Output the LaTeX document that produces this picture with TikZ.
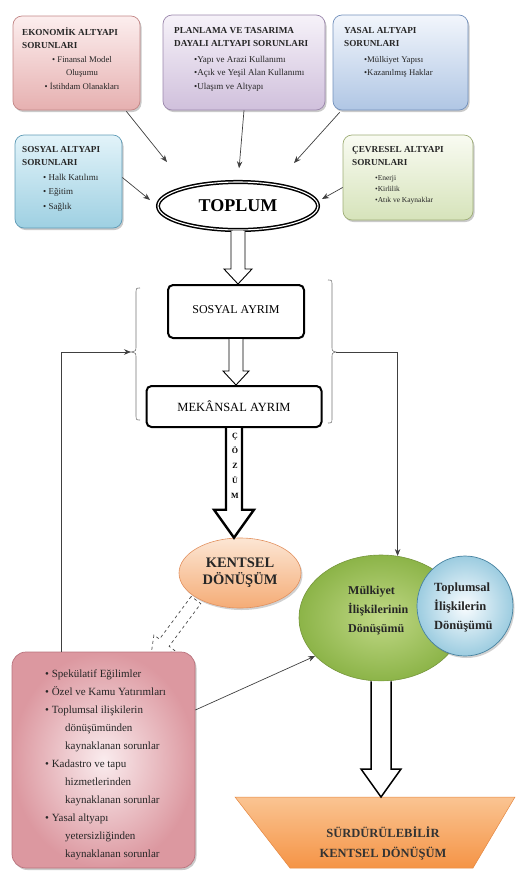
\documentclass[tikz,border=0pt]{standalone}
\usepackage{fontspec}
\setmainfont{Liberation Serif}
\usetikzlibrary{shapes.geometric,arrows.meta,shadows,calc}
\definecolor{ekoT}{RGB}{252,238,238}\definecolor{ekoB}{RGB}{230,176,176}\definecolor{ekoD}{RGB}{195,135,135}
\definecolor{plaT}{RGB}{246,242,249}\definecolor{plaB}{RGB}{208,192,220}\definecolor{plaD}{RGB}{155,135,172}
\definecolor{yasT}{RGB}{242,246,252}\definecolor{yasB}{RGB}{176,198,228}\definecolor{yasD}{RGB}{115,145,188}
\definecolor{sosT}{RGB}{226,243,249}\definecolor{sosB}{RGB}{158,208,226}\definecolor{sosD}{RGB}{95,155,182}
\definecolor{cevT}{RGB}{249,251,242}\definecolor{cevB}{RGB}{214,227,186}\definecolor{cevD}{RGB}{158,173,118}
\definecolor{kenT}{RGB}{252,230,212}\definecolor{kenB}{RGB}{245,172,118}\definecolor{kenD}{RGB}{226,145,95}
\definecolor{grnI}{RGB}{192,216,134}\definecolor{grnO}{RGB}{140,180,72}\definecolor{grnD}{RGB}{118,150,60}
\definecolor{bluI}{RGB}{250,253,255}\definecolor{bluO}{RGB}{156,204,224}\definecolor{bluD}{RGB}{70,130,160}
\definecolor{pnkI}{RGB}{250,236,238}\definecolor{pnkO}{RGB}{220,152,160}\definecolor{pnkD}{RGB}{185,115,125}
\definecolor{trT}{RGB}{250,196,146}\definecolor{trB}{RGB}{245,148,70}\definecolor{trD}{RGB}{228,135,65}
\newcommand\harrow[6][]{%
 \draw[#1] let \p1=(#2), \p2=(#3) in
   (\x1-#4,\y1) -- (\x1-#4,\y2+#6) -- (\x1-#5,\y2+#6) -- (\x1,\y2) --
   (\x1+#5,\y2+#6) -- (\x1+#4,\y2+#6) -- (\x1+#4,\y1);}
\begin{document}
\begin{tikzpicture}[x=1pt,y=-1pt,
  box/.style={rounded corners=9pt, line width=0.7pt, inner sep=0,
     drop shadow={shadow xshift=1.5pt, shadow yshift=-2pt, opacity=0.35, fill=black!60}},
  ttl/.style={font=\fontsize{9.2}{13.5}\selectfont\bfseries, align=left, anchor=north west, inner sep=0, text=black!85},
  lst/.style={font=\fontsize{8.7}{13.5}\selectfont, align=left, anchor=north west, inner sep=0, text=black!85},
  con/.style={draw=black!75, line width=0.7pt, -{Stealth[length=7pt,width=5.5pt]}},
  hol/.style={draw=black, line width=0.9pt, fill=white, line join=miter},
  ayr/.style={draw=black, line width=2pt, rounded corners=5pt, fill=white, inner sep=0},
  brc/.style={draw=black!55, line width=0.6pt}
]
\useasboundingbox (0,0) rectangle (515,879);

% ---- top boxes
\node[box, draw=ekoD, top color=ekoT, bottom color=ekoB, minimum width=127, minimum height=94] (eko) at (76.5,63) {};
\node[ttl] (ekoTt) at (22,27) {EKONOMİK ALTYAPI\\SORUNLARI};
\node[lst, align=center, anchor=north] (ekoL) at (82,56) {• Finansal Model\\Oluşumu\\• İstihdam Olanakları};

\node[box, draw=plaD, top color=plaT, bottom color=plaB, minimum width=162, minimum height=95] (pla) at (244,62.5) {};
\node[ttl] (plaTt) at (174,27) {PLANLAMA VE TASARIMA\\DAYALI ALTYAPI SORUNLARI};
\node[lst, font=\fontsize{9}{13.5}\selectfont] (plaL) at (194,56) {•Yapı ve Arazi Kullanımı\\•Açık ve Yeşil Alan Kullanımı\\•Ulaşım ve Altyapı};

\node[box, draw=yasD, top color=yasT, bottom color=yasB, minimum width=135, minimum height=95] (yas) at (400.5,62.5) {};
\node[ttl] (yasTt) at (344,27) {YASAL ALTYAPI\\SORUNLARI};
\node[lst] (yasL) at (364,56) {•Mülkiyet Yapısı\\•Kazanılmış Haklar};

\node[box, draw=sosD, top color=sosT, bottom color=sosB, minimum width=107, minimum height=93] (sos) at (68.5,181.5) {};
\node[ttl] (sosTt) at (22,146) {SOSYAL ALTYAPI\\SORUNLARI};
\node[lst, font=\fontsize{9}{14.5}\selectfont] (sosL) at (43,174) {• Halk Katılımı\\• Eğitim\\• Sağlık};

\node[box, draw=cevD, top color=cevT, bottom color=cevB, minimum width=130, minimum height=85] (cev) at (408,177.5) {};
\node[ttl] (cevTt) at (352,146) {ÇEVRESEL ALTYAPI\\SORUNLARI};
\node[lst, font=\fontsize{7.5}{11}\selectfont] (cevL) at (375,175) {•Enerji\\•Kirlilik\\•Atık ve Kaynaklar};

% ---- TOPLUM
\node[ellipse, draw=black, line width=1.5pt, double=white, double distance=1.1pt, fill=white,
      minimum width=160, minimum height=48, inner sep=0, font=\fontsize{18}{20}\selectfont\bfseries] (top) at (238,206) {TOPLUM};

\coordinate (ea) at (167,162);
\coordinate (ya) at (294,163);
\coordinate (sa1) at (150,200);
\coordinate (ca) at (322,199);
\draw[con] ($(eko.south east)+(-14,1)$) -- (ea);
\draw[con, shorten >=13pt] (pla.south) -- (top.north);
\draw[con] ($(yas.south west)+(7,2)$) -- (ya);
\draw[con] ($(sos.east)+(0,-4)$) -- (sa1);
\draw[con] ($(cev.west)+(0,10)$) -- (ca);

% ---- ayrim boxes
\node[ayr, minimum width=136, minimum height=53, font=\fontsize{12}{14}\selectfont] (sa) at (236,311.5) {\raisebox{4pt}{SOSYAL AYRIM}};
\node[ayr, minimum width=175, minimum height=41, font=\fontsize{12.5}{14}\selectfont] (ma) at (234,406.5) {MEKÂNSAL AYRIM};

\harrow[hol]{top.south}{sa.north}{7pt}{14pt}{15pt}
\harrow[hol]{sa.south}{ma.north}{7pt}{13pt}{14pt}

% braces
\coordinate (lb) at (131,352);
\coordinate (rb) at (336,352);
\draw[brc] (140,288) .. controls (136,288) .. (136,294) -- (136,346) .. controls (136,351) .. (lb)
           .. controls (136,353) .. (136,358) -- (136,414) .. controls (136,420) .. (140,420);
\draw[brc] (328,280) .. controls (332,280) .. (332,286) -- (332,346) .. controls (332,351) .. (rb)
           .. controls (332,353) .. (332,358) -- (332,417) .. controls (332,423) .. (328,423);

% ---- KENTSEL
\node[ellipse, draw=kenD, line width=0.6pt, top color=kenT, bottom color=kenB, minimum width=122, minimum height=70,
      inner sep=0, align=center, font=\fontsize{14.5}{17}\selectfont\bfseries, text=black!85,
      drop shadow={shadow xshift=1.5pt, shadow yshift=-2pt, opacity=0.3, fill=black!60}] (kd) at (240,573) {KENTSEL\\DÖNÜŞÜM};

\harrow[draw=black, line width=2.4pt, fill=white, line join=miter]{ma.south}{kd.north}{8pt}{20pt}{28pt}
\node[inner sep=0, align=center, font=\fontsize{8}{15}\selectfont\bfseries] (coz) at (235,466) {Ç\\Ö\\Z\\Ü\\M};

% ---- green & blue
\node[ellipse, draw=grnD, line width=0.6pt, inner color=grnI, outer color=grnO, minimum width=164, minimum height=126, inner sep=0] (grn) at (381,618) {};
\node[ellipse, draw=bluD, line width=0.7pt, inner color=bluI, outer color=bluO, minimum width=96, minimum height=100, inner sep=0,
      drop shadow={shadow xshift=1.5pt, shadow yshift=-2pt, opacity=0.3, fill=black!60}] (blu) at (465,606) {};
\node[anchor=west, inner sep=0, align=left, font=\fontsize{12}{19}\selectfont\bfseries, text=black!85] (grnT) at (348,611) {Mülkiyet\\İlişkilerinin\\Dönüşümü};
\node[anchor=west, inner sep=0, align=left, font=\fontsize{12.5}{19}\selectfont\bfseries, text=black!85] (bluT) at (434,607) {Toplumsal\\İlişkilerin\\Dönüşümü};

\draw[con] (rb) -| (grn.75);

% ---- dashed hollow arrow
\draw[dashed, draw=black!70, line width=0.7pt, fill=white]
  (191.2,596.4) -- (159.5,639.1) -- (153.9,635.0) -- (150,662) -- (174.7,650.5) -- (169.1,646.3) -- (200.8,603.6) -- cycle;

% ---- pink box
\node[box, rounded corners=14pt, draw=pnkD, inner color=pnkI, outer color=pnkO, minimum width=183, minimum height=216] (pnk) at (103.5,760) {};
\node[anchor=north west, inner sep=0, align=left, font=\fontsize{11}{18}\selectfont, text=black!85] (pnkL) at (45,670)
 {• Spekülatif Eğilimler\\
  • Özel ve Kamu Yatırımları\\
  • Toplumsal ilişkilerin\\
  \hspace*{20pt}dönüşümünden\\
  \hspace*{20pt}kaynaklanan sorunlar\\
  • Kadastro ve tapu\\
  \hspace*{20pt}hizmetlerinden\\
  \hspace*{20pt}kaynaklanan sorunlar\\
  • Yasal altyapı\\
  \hspace*{20pt}yetersizliğinden\\
  \hspace*{20pt}kaynaklanan sorunlar};

\coordinate (fbs) at ($(pnk.north west)+(50,0)$);
\draw[con] (fbs) |- (lb);
\draw[con] ($(pnk.east)+(0,-50)$) -- (grn.210);

% ---- trapezoid
\coordinate (trTop) at (381,797);
\path[draw=trD, line width=0.5pt, top color=trT, bottom color=trB] (235,797) -- (515,797) -- (473,868) -- (290,868) -- cycle;
\node[inner sep=0, align=center, font=\fontsize{12.5}{20}\selectfont\bfseries, text=black!80] (trT) at (383,843) {SÜRDÜRÜLEBİLİR\\KENTSEL DÖNÜŞÜM};

\harrow[draw=black, line width=1.5pt, fill=white, line join=miter]{grn.south}{trTop}{10pt}{20pt}{28pt}
\end{tikzpicture}
\end{document}
